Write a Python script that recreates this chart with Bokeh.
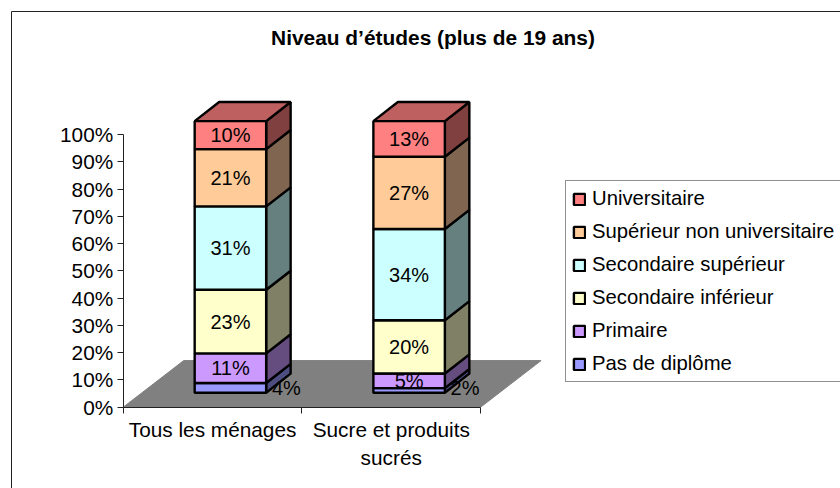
from bokeh.plotting import figure
from bokeh.models import LinearAxis, FixedTicker, Legend, LegendItem, Range1d
from bokeh.core.properties import value
from bokeh.embed import file_html
from bokeh.resources import INLINE

categories = ["Tous les ménages", "Sucre et produits\nsucrés"]
series = ["Pas de diplôme", "Primaire", "Secondaire inférieur",
          "Secondaire supérieur", "Supérieur non universitaire", "Universitaire"]
pas_diplome = [3.6, 1.7]
primaire = [10.9, 5.4]
sec_inf = [23.4, 19.6]
sec_sup = [30.7, 33.6]
sup_non = [21.1, 26.6]
univ = [10.3, 13.1]
values = [pas_diplome, primaire, sec_inf, sec_sup, sup_non, univ]
fills = ["#9999FF", "#CC99FF", "#FFFFCC", "#CCFFFF", "#FFCC99", "#FF8080"]
sides = ["#4D4D80", "#664D80", "#808066", "#668080", "#806650", "#804040"]
top_fill = "#BF6060"
y_ticks = list(range(0, 101, 10))

W, H = 840, 488
PX_CAT, PX_PCT = 178.7, 2.727        # pixels per category / per percent
X0, Y0 = 122.7, 406.7                # axis origin in figure pixels
FONT = "Liberation Sans"
FS = "20.8px"
BAR_W = 0.4
FRONT_DX, FRONT_DY = 0.1, 5.3        # front of the bars, relative to the axis
DEPTH_DX, DEPTH_DY = 0.137, 7.0      # bar depth
FLOOR_DX, FLOOR_DY = 0.3386, 17.1    # floor depth
SCALE = 0.996                        # bars are slightly foreshortened
EDGE = 2.4

p = figure(width=W, height=H, output_backend="svg", toolbar_location=None,
           x_axis_location=None, y_axis_location=None, min_border=0,
           x_range=Range1d(-X0 / PX_CAT, (W - X0) / PX_CAT),
           y_range=Range1d(-(H - Y0) / PX_PCT, Y0 / PX_PCT))
p.grid.visible = False
p.outline_line_color = None
xmin, xmax = p.x_range.start, p.x_range.end
ymin, ymax = p.y_range.start, p.y_range.end

# chart border (left and top edges are the only ones in the picture)
bx, by = xmin + 11 / PX_CAT, ymax - 11 / PX_PCT
p.line([bx, bx, xmax], [ymin, by, by], line_color="#222222", line_width=1)

# floor
n = len(categories)
p.patch([0, n, n + FLOOR_DX, FLOOR_DX], [0, 0, FLOOR_DY, FLOOR_DY],
        fill_color="#808080", line_color="#808080")

cum = [0.0] * n
front_renderers = []
for s, vals in enumerate(values):
    lo, hi, fl, fr, xs_side, ys_side = [], [], [], [], [], []
    for c in range(n):
        l = c + 0.5 - BAR_W / 2 + FRONT_DX
        r = l + BAR_W
        b = FRONT_DY + cum[c] * SCALE
        t = FRONT_DY + (cum[c] + vals[c]) * SCALE
        lo.append(b); hi.append(t); fl.append(l); fr.append(r)
        xs_side.append([r, r + DEPTH_DX, r + DEPTH_DX, r])
        ys_side.append([b, b + DEPTH_DY, t + DEPTH_DY, t])
        cum[c] += vals[c]
    p.patches(xs_side, ys_side, fill_color=sides[s], line_color="black", line_width=EDGE)
    if s == len(values) - 1:
        p.patches([[fl[c], fr[c], fr[c] + DEPTH_DX, fl[c] + DEPTH_DX] for c in range(n)],
                  [[hi[c], hi[c], hi[c] + DEPTH_DY, hi[c] + DEPTH_DY] for c in range(n)],
                  fill_color=top_fill, line_color="black", line_width=EDGE)
    front = p.quad(left=fl, right=fr, bottom=lo, top=hi,
                   fill_color=fills[s], line_color="black", line_width=EDGE)
    front_renderers.append(front)

# data labels
cum = [0.0] * n
lx, ly, lt = [], [], []
for vals in values:
    for c in range(n):
        small = vals[c] < 4
        lx.append(c + 0.5 + FRONT_DX + (0.313 if small else 0))
        ly.append(FRONT_DY + (1.8 if small else (cum[c] + vals[c] / 2) * SCALE))
        lt.append(f"{round(vals[c])}%")
        cum[c] += vals[c]
p.text(lx, ly, text=lt, text_font=value(FONT), text_font_size=value("20px"),
       text_align="center", text_baseline="middle", text_color="black")

# title
p.text([(432.5 - X0) / PX_CAT], [(Y0 - 37) / PX_PCT], text=["Niveau d’études (plus de 19 ans)"],
       text_font=value(FONT), text_font_size=value("20.9px"), text_font_style="bold",
       text_align="center", text_baseline="middle", text_color="black")

# axes
ya = LinearAxis(fixed_location=0, bounds=(0, 100), ticker=FixedTicker(ticks=y_ticks),
                major_label_overrides={t: f"{t}%" for t in y_ticks},
                major_label_text_font=FONT, major_label_text_font_size=FS,
                major_label_text_color="black", major_tick_in=0, major_tick_out=6,
                major_label_standoff=4, minor_tick_line_color=None,
                axis_line_color="#222222", major_tick_line_color="#222222")
p.add_layout(ya, "left")
xa = LinearAxis(fixed_location=0, bounds=(0, n), ticker=FixedTicker(ticks=list(range(n + 1))),
                major_label_text_color=None, major_tick_in=0, major_tick_out=6,
                minor_tick_line_color=None,
                axis_line_color="#222222", major_tick_line_color="#222222")
p.add_layout(xa, "below")
xl = LinearAxis(fixed_location=0, ticker=FixedTicker(ticks=[c + 0.5 for c in range(n)]),
                major_label_overrides={c + 0.5: categories[c] for c in range(n)},
                major_label_text_font=FONT, major_label_text_font_size=FS,
                major_label_text_color="black", major_tick_line_color=None,
                minor_tick_line_color=None, axis_line_color=None, major_label_standoff=5)
p.add_layout(xl, "below")

# legend
items = [LegendItem(label=series[i], renderers=[front_renderers[i]]) for i in reversed(range(len(series)))]
lg = Legend(items=items, location=(565, 106), orientation="vertical",
            label_text_font=FONT, label_text_font_size="20.3px", label_text_color="black",
            glyph_width=14, glyph_height=14, label_standoff=6, spacing=10, label_width=262,
            padding=6, margin=0, border_line_color="#222222", border_line_width=1,
            background_fill_color="white", background_fill_alpha=1)
p.add_layout(lg, "center")

open("out.html", "w").write(file_html(p, INLINE))
